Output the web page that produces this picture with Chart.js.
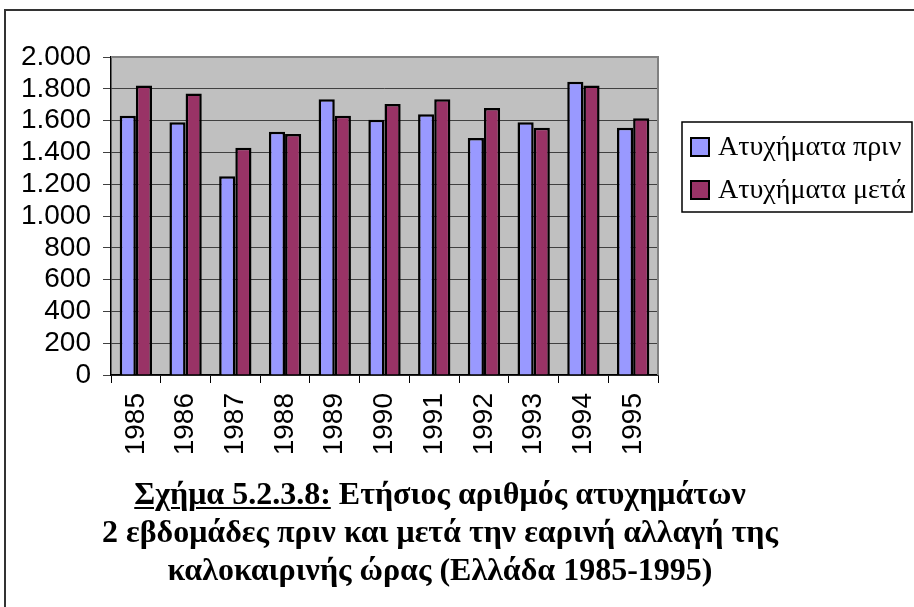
<!DOCTYPE html>
<html>
<head>
<meta charset="utf-8">
<script src="https://cdn.jsdelivr.net/npm/chart.js@4"></script>
<style>
    html, body { margin: 0; padding: 0; background: #fff; }
    #wrap { position: relative; width: 914px; height: 607px; overflow: hidden; }
    #frame { position: absolute; left: 4px; top: 9px; right: -10px; bottom: -10px;
        border-left: 2px solid #333; border-top: 2px solid #333; }
    #chart { position: absolute; left: 0; top: 0; }
    #caption { position: absolute; left: 40px; width: 800px; top: 474px; text-align: center;
        font-family: 'Liberation Serif', 'Times New Roman', serif; font-weight: bold;
        font-size: 32px; line-height: 38px; color: #000; }
    #caption u { text-underline-offset: 3px; text-decoration-thickness: 2px; }
</style>
</head>
<body>
<div id="wrap">
    <div id="frame"></div>
    <canvas id="chart" width="914" height="607"></canvas>
    <div id="caption">
        <u>Σχήμα 5.2.3.8:</u> Ετήσιος αριθμός ατυχημάτων<br>
        2 εβδομάδες πριν και μετά την εαρινή αλλαγή της<br>
        καλοκαιρινής ώρας (Ελλάδα 1985-1995)
    </div>
</div>
<script>
const years = ['1985', '1986', '1987', '1988', '1989', '1990', '1991', '1992', '1993', '1994', '1995'];
const accidentsBefore = [1630, 1590, 1250, 1530, 1735, 1605, 1640, 1490, 1590, 1845, 1555];
const accidentsAfter = [1820, 1770, 1430, 1515, 1630, 1705, 1735, 1680, 1555, 1820, 1615];
const seriesNames = ['Ατυχήματα πριν', 'Ατυχήματα μετά'];
const yTicks = [0, 200, 400, 600, 800, 1000, 1200, 1400, 1600, 1800, 2000];

// grey plot background + border on top/right
const plotBackground = {
    id: 'plotBackground',
    beforeDraw(chart) {
        const { ctx, chartArea: a } = chart;
        ctx.save();
        ctx.fillStyle = '#c0c0c0';
        ctx.fillRect(a.left, a.top, a.right - a.left, a.bottom - a.top);
        ctx.restore();
    },
    afterDatasetsDraw(chart) {
        const { ctx, chartArea: a } = chart;
        ctx.save();
        ctx.strokeStyle = '#808080';
        ctx.lineWidth = 2;
        ctx.beginPath();
        ctx.moveTo(a.left, a.top);
        ctx.lineTo(a.right, a.top);
        ctx.lineTo(a.right, a.bottom);
        ctx.stroke();
        ctx.restore();
    }
};

// boxed legend on the right, drawn from the datasets
const boxLegend = {
    id: 'boxLegend',
    afterDraw(chart) {
        const ctx = chart.ctx;
        const x = 682, y = 122, w = 230, h = 90;
        ctx.save();
        ctx.fillStyle = '#fff';
        ctx.fillRect(x, y, w, h);
        ctx.strokeStyle = '#000';
        ctx.lineWidth = 1.5;
        ctx.strokeRect(x, y, w, h);
        ctx.font = '28px "Liberation Serif", "Times New Roman", serif';
        ctx.textBaseline = 'middle';
        chart.data.datasets.forEach((ds, i) => {
            const cy = y + 25 + i * 43;
            ctx.fillStyle = ds.backgroundColor;
            ctx.fillRect(x + 9, cy - 9, 18, 18);
            ctx.lineWidth = 2;
            ctx.strokeRect(x + 9, cy - 9, 18, 18);
            ctx.fillStyle = '#000';
            ctx.fillText(ds.label, x + 36, cy + 1);
        });
        ctx.restore();
    }
};

new Chart(document.getElementById('chart'), {
    type: 'bar',
    data: {
        labels: years,
        datasets: [{
            label: seriesNames[0],
            data: accidentsBefore,
            backgroundColor: '#9999ff',
            borderColor: '#000',
            borderWidth: 2.5
        }, {
            label: seriesNames[1],
            data: accidentsAfter,
            backgroundColor: '#993366',
            borderColor: '#000',
            borderWidth: 2.5
        }]
    },
    options: {
        responsive: false,
        animation: false,
        layout: { padding: { left: 0, right: 256, top: 57, bottom: 132 } },
        categoryPercentage: 0.65,
        barPercentage: 1,
        plugins: {
            legend: { display: false },
            tooltip: { enabled: false }
        },
        scales: {
            x: {
                afterFit: s => { s.height = 100; },
                grid: { offset: true, drawOnChartArea: false, tickLength: 8, color: '#000' },
                border: { color: '#000', width: 1.5 },
                ticks: {
                    minRotation: 90, maxRotation: 90, padding: 10, color: '#000', autoSkip: false,
                    font: { family: '"Liberation Sans", Arial, sans-serif', size: 28 }
                }
            },
            y: {
                min: 0,
                max: 2000,
                afterFit: s => { s.width = 111; },
                afterBuildTicks: s => { s.ticks = yTicks.map(v => ({ value: v })); },
                grid: { color: '#404040', tickLength: 8 },
                border: { color: '#000', width: 1.5 },
                ticks: {
                    padding: 12, color: '#000', autoSkip: false,
                    font: { family: '"Liberation Sans", Arial, sans-serif', size: 28 },
                    callback: v => v.toLocaleString('de-DE')
                }
            }
        }
    },
    plugins: [plotBackground, boxLegend]
});
</script>
</body>
</html>
